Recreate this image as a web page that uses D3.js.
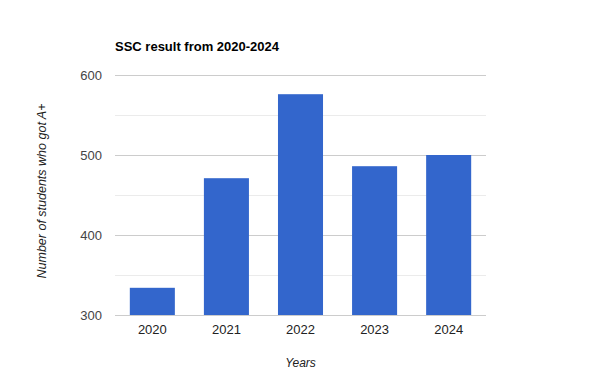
<!DOCTYPE html>
<html><head><meta charset="utf-8">
<script src="https://cdn.jsdelivr.net/npm/d3@7"></script>
<style>body{margin:0;background:#fff;}svg{display:block;font-family:"Liberation Sans",Arial,sans-serif;}</style>
</head><body><svg id="c" width="600" height="390"></svg>
<script>
const years = ["2020","2021","2022","2023","2024"];
const students = [334, 471, 576, 486, 500];
const majorTicks = [300, 400, 500, 600];
const minorTicks = [350, 450, 550];
const title = "SSC result from 2020-2024";
const xTitle = "Years";
const yTitle = "Number of students who got A+";

const svg = d3.select("#c");
const L = 115, R = 486, T = 75, B = 315;
const x = d3.scaleBand().domain(years).range([L, R]).paddingInner(0.392).paddingOuter(0.2);
const y = d3.scaleLinear().domain([300, 600]).range([B, T]);

svg.append("g").selectAll("line").data(minorTicks).join("line")
  .attr("x1", L).attr("x2", R).attr("y1", d => Math.round(y(d)) + 0.5).attr("y2", d => Math.round(y(d)) + 0.5)
  .attr("stroke", "#ebebeb").attr("stroke-width", 1);
svg.append("g").selectAll("line").data(majorTicks.filter(d => d !== 300)).join("line")
  .attr("x1", L).attr("x2", R).attr("y1", d => Math.round(y(d)) + 0.5).attr("y2", d => Math.round(y(d)) + 0.5)
  .attr("stroke", "#cccccc").attr("stroke-width", 1);

svg.append("g").selectAll("rect").data(years).join("rect")
  .attr("x", d => x(d)).attr("width", x.bandwidth())
  .attr("y", (d, i) => y(students[i])).attr("height", (d, i) => B - y(students[i]))
  .attr("fill", "#3366cc");

svg.append("line").attr("x1", L).attr("x2", R).attr("y1", B + 0.5).attr("y2", B + 0.5)
  .attr("stroke", "#cccccc").attr("stroke-width", 1);

// y axis labels
const ya = d3.axisLeft(y).tickValues(majorTicks).tickSize(0).tickPadding(0).tickFormat(d3.format("d"));
const gy = svg.append("g").attr("transform", `translate(${102},0)`).call(ya);
gy.select(".domain").remove();
gy.selectAll("text").attr("font-size", 13).attr("fill", "#444").attr("font-family", "'Liberation Sans',Arial,sans-serif");

// x axis labels
const xa = d3.axisBottom(x).tickSize(0).tickPadding(0);
const gx = svg.append("g").attr("transform", `translate(0,${325})`).call(xa);
gx.select(".domain").remove();
gx.selectAll("text").attr("font-size", 13).attr("fill", "#222").attr("font-family", "'Liberation Sans',Arial,sans-serif");

svg.append("text").attr("x", 115).attr("y", 51).attr("font-size", 13).attr("font-weight", "bold")
  .attr("fill", "#000").text(title);
svg.append("text").attr("x", (L + R) / 2).attr("y", 367).attr("text-anchor", "middle")
  .attr("font-size", 12).attr("font-style", "italic").attr("fill", "#222").text(xTitle);
svg.append("text").attr("transform", `translate(46,191) rotate(-90)`).attr("text-anchor", "middle")
  .attr("font-size", 12.5).attr("font-style", "italic").attr("fill", "#222").text(yTitle);
</script></body></html>
